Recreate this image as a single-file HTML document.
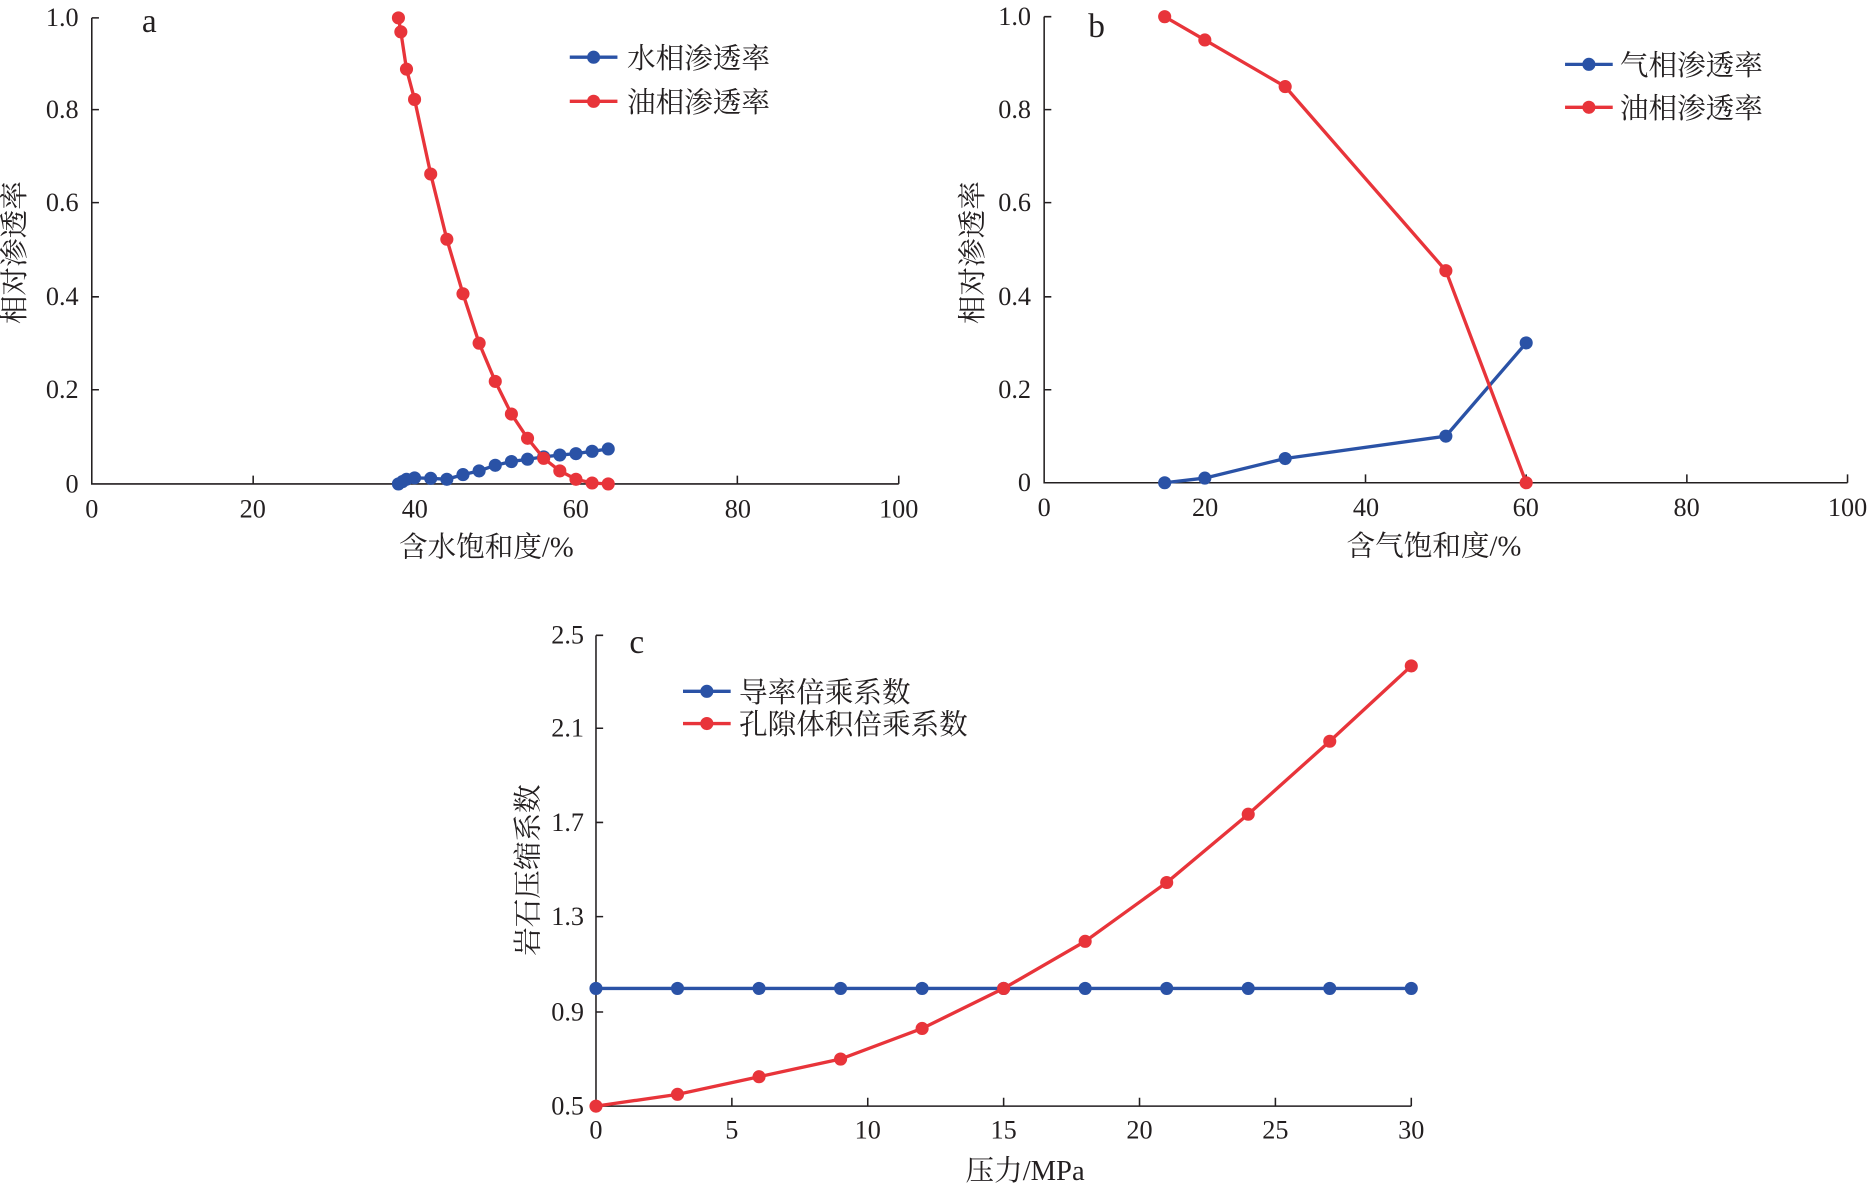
<!DOCTYPE html>
<html><head><meta charset="utf-8"><style>
html,body{margin:0;padding:0;background:#fff}
svg{display:block}
text{font-family:"Liberation Serif","Noto Serif CJK SC",serif;fill:#231f20}
</style></head><body>
<svg id="s" width="1869" height="1186" viewBox="0 0 1568 995" xmlns="http://www.w3.org/2000/svg">
<g stroke="#231f20" stroke-width="1.3" fill="none">
<path d="M77,15 V406 H754"/>
<path d="M77,15 h6 M77,92 h6 M77,170 h6 M77,249 h6 M77,327 h6"/>
<path d="M212.4,406 v-7 M347.8,406 v-7 M483.2,406 v-7 M618.6,406 v-7 M754,406 v-7"/>
<path d="M876,14 V405 H1550"/>
<path d="M876,14 h6 M876,92 h6 M876,170 h6 M876,249 h6 M876,327 h6"/>
<path d="M1010.8,405 v-7 M1145.6,405 v-7 M1280.4,405 v-7 M1415.2,405 v-7 M1550,405 v-7"/>
<path d="M500,533 V928 H1184"/>
<path d="M500,533 h6 M500,611 h6 M500,690 h6 M500,769 h6 M500,849 h6"/>
<path d="M614,928 v-7 M728,928 v-7 M842,928 v-7 M956,928 v-7 M1070,928 v-7 M1184,928 v-7"/>
</g>
<g font-size="22" text-anchor="end">
<text x="66" y="22">1.0</text><text x="66" y="99">0.8</text><text x="66" y="177">0.6</text><text x="66" y="256">0.4</text><text x="66" y="334">0.2</text><text x="66" y="413">0</text>
<text x="865" y="21">1.0</text><text x="865" y="99">0.8</text><text x="865" y="177">0.6</text><text x="865" y="256">0.4</text><text x="865" y="334">0.2</text><text x="865" y="412">0</text>
<text x="490" y="540">2.5</text><text x="490" y="618">2.1</text><text x="490" y="697">1.7</text><text x="490" y="776">1.3</text><text x="490" y="856">0.9</text><text x="490" y="935">0.5</text>
</g>
<g font-size="22" text-anchor="middle">
<text x="77" y="434">0</text><text x="212" y="434">20</text><text x="348" y="434">40</text><text x="483" y="434">60</text><text x="619" y="434">80</text><text x="754" y="434">100</text>
<text x="876" y="433">0</text><text x="1011" y="433">20</text><text x="1146" y="433">40</text><text x="1280" y="433">60</text><text x="1415" y="433">80</text><text x="1550" y="433">100</text>
<text x="500" y="955">0</text><text x="614" y="955">5</text><text x="728" y="955">10</text><text x="842" y="955">15</text><text x="956" y="955">20</text><text x="1070" y="955">25</text><text x="1184" y="955">30</text>
</g>
<g font-size="24" text-anchor="middle">
<text x="408" y="467">含水饱和度/%</text>
<text x="1203" y="466">含气饱和度/%</text>
<text x="860" y="990">压力/MPa</text>
<text transform="translate(20,212) rotate(-90)">相对渗透率</text>
<text transform="translate(824,212) rotate(-90)">相对渗透率</text>
<text transform="translate(451,730) rotate(-90)">岩石压缩系数</text>
</g>
<g font-size="28"><text x="119" y="27">a</text><text x="913" y="31">b</text><text x="528" y="548">c</text></g>
<g font-size="24">
<text x="526" y="57">水相渗透率</text><text x="526" y="94">油相渗透率</text>
<text x="1359" y="63">气相渗透率</text><text x="1359" y="99">油相渗透率</text>
<text x="620" y="589">导率倍乘系数</text><text x="620" y="616">孔隙体积倍乘系数</text>
</g>
<g id="d"></g>
</svg>
<script>
var B="#2a52a6",R="#e8343a",g=document.getElementById('d'),ns="http://www.w3.org/2000/svg";
function circ(x,y,c){var e=document.createElementNS(ns,'circle');e.setAttribute('cx',x);e.setAttribute('cy',y);e.setAttribute('r','5.5');e.setAttribute('fill',c);g.appendChild(e);}
function ser(pts,c){var p=document.createElementNS(ns,'polyline');p.setAttribute('points',pts.map(function(q){return q.join(',')}).join(' '));p.setAttribute('fill','none');p.setAttribute('stroke',c);p.setAttribute('stroke-width','2.8');g.appendChild(p);
pts.forEach(function(q){circ(q[0],q[1],c);});}
function A(d){return d.map(function(v){return [77+v[0]*6.77,406-v[1]*391]})}
function Bp(d){return d.map(function(v){return [876+v[0]*6.74,405-v[1]*391]})}
function C(d){return d.map(function(v){return [500+v[0]*22.8,928-(v[1]-0.5)*197.5]})}
ser(A([[38,0],[38.5,0.005],[39,0.01],[40,0.013],[42,0.012],[44,0.01],[46,0.02],[48,0.028],[50,0.04],[52,0.048],[54,0.053],[56,0.058],[58,0.062],[60,0.065],[62,0.07],[64,0.075]]),B);
ser(A([[38,1],[38.3,0.97],[39,0.89],[40,0.825],[42,0.665],[44,0.525],[46,0.408],[48,0.302],[50,0.22],[52,0.15],[54,0.098],[56,0.055],[58,0.028],[60,0.01],[62,0.002],[64,0]]),R);
ser(Bp([[15,0],[20,0.01],[30,0.052],[50,0.1],[60,0.3]]),B);
ser(Bp([[15,1],[20,0.95],[30,0.85],[50,0.455],[60,0]]),R);
ser(C([[0,1],[3,1],[6,1],[9,1],[12,1],[15,1],[18,1],[21,1],[24,1],[27,1],[30,1]]),B);
ser(C([[0,0.5],[3,0.55],[6,0.625],[9,0.7],[12,0.83],[15,1],[18,1.2],[21,1.45],[24,1.74],[27,2.05],[30,2.37]]),R);
[[478,48,B],[478,85,R],[1313,54,B],[1313,90,R],[573,580,B],[573,607,R]].forEach(function(l){
var p=document.createElementNS(ns,'line');p.setAttribute('x1',l[0]);p.setAttribute('x2',l[0]+40);p.setAttribute('y1',l[1]);p.setAttribute('y2',l[1]);p.setAttribute('stroke',l[2]);p.setAttribute('stroke-width','2.8');g.appendChild(p);
circ(l[0]+20,l[1],l[2]);});
</script>
</body></html>
